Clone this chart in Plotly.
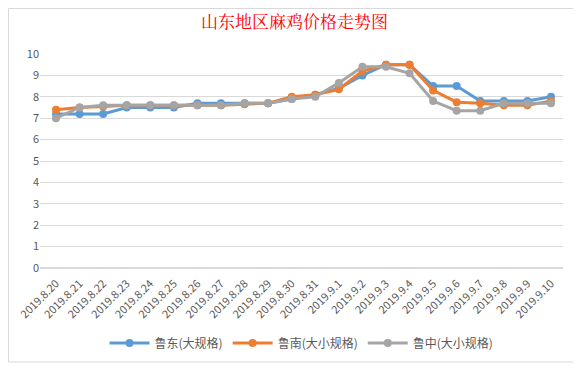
import plotly.graph_objects as go

dates = ["2019.8.20", "2019.8.21", "2019.8.22", "2019.8.23", "2019.8.24", "2019.8.25",
         "2019.8.26", "2019.8.27", "2019.8.28", "2019.8.29", "2019.8.30", "2019.8.31",
         "2019.9.1", "2019.9.2", "2019.9.3", "2019.9.4", "2019.9.5", "2019.9.6",
         "2019.9.7", "2019.9.8", "2019.9.9", "2019.9.10"]
ludong = [7.2, 7.2, 7.2, 7.5, 7.5, 7.5, 7.7, 7.7, 7.7, 7.7, 7.9, 8.1,
          8.4, 9.0, 9.5, 9.5, 8.5, 8.5, 7.8, 7.8, 7.8, 8.0]
lunan = [7.4, 7.5, 7.55, 7.6, 7.6, 7.6, 7.6, 7.6, 7.65, 7.7, 8.0, 8.1,
         8.35, 9.2, 9.5, 9.5, 8.3, 7.75, 7.7, 7.6, 7.6, 7.8]
luzhong = [7.0, 7.5, 7.6, 7.6, 7.6, 7.6, 7.6, 7.6, 7.7, 7.7, 7.9, 8.0,
           8.65, 9.4, 9.4, 9.1, 7.8, 7.35, 7.35, 7.7, 7.7, 7.7]
names = ["鲁东(大规格)", "鲁南(大小规格)", "鲁中(大小规格)"]
colors = ["#5B9BD5", "#ED7D31", "#A5A5A5"]
yticks = [0, 1, 2, 3, 4, 5, 6, 7, 8, 9, 10]

fig = go.Figure()
for name, vals, c in zip(names, [ludong, lunan, luzhong], colors):
    fig.add_trace(go.Scatter(x=dates, y=vals, name=name, mode="lines+markers",
                             line=dict(color=c, width=3),
                             marker=dict(color=c, size=8)))

# page has an 8px body margin; figure coordinates = page coordinates - 8
OFF = 8
W, H = 581 - OFF, 366 - OFF
L, R, T, B = 40 - OFF, 18, 54 - OFF, 98
pw, ph = W - L - R, H - T - B
def px(x):
    return (x - OFF - L) / pw
def py(y):
    return (H - B - (y - OFF)) / ph

fig.update_layout(
    width=W, height=H,
    margin=dict(l=L, r=R, t=T, b=B, autoexpand=False),
    paper_bgcolor="white", plot_bgcolor="white",
    font=dict(family="Noto Sans CJK SC, sans-serif", color="#595959", size=11),
    title=dict(text="山东地区麻鸡价格走势图", x=0.5, xanchor="center",
               y=1 - (22 - OFF) / H, yanchor="middle",
               font=dict(family="Noto Serif CJK SC, Noto Sans CJK SC, serif", size=17, color="#FF0000")),
    showlegend=True,
    legend=dict(orientation="h", x=0.5, xanchor="center", y=py(343), yanchor="middle",
                font=dict(size=12, color="#595959"), itemwidth=40),
    xaxis=dict(type="category", tickangle=-45, showgrid=False, showline=False,
               ticks="", tickfont=dict(size=11, color="#595959"), automargin=False,
               ticklabelstandoff=6,
               range=[-0.68, 21.51]),
    yaxis=dict(range=[0, 10], tickvals=yticks, showgrid=True, gridcolor="#D9D9D9",
               gridwidth=1, zeroline=True, zerolinecolor="#D9D9D9", ticks="",
               automargin=False,
               tickfont=dict(size=11, color="#595959"), showline=False),
    shapes=[dict(type="rect", xref="paper", yref="paper",
                 x0=px(8.5), x1=px(577), y0=py(362), y1=py(8.5),
                 line=dict(color="#D9D9D9", width=1), fillcolor="rgba(0,0,0,0)", layer="below")],
)
fig.write_html("out.html")
